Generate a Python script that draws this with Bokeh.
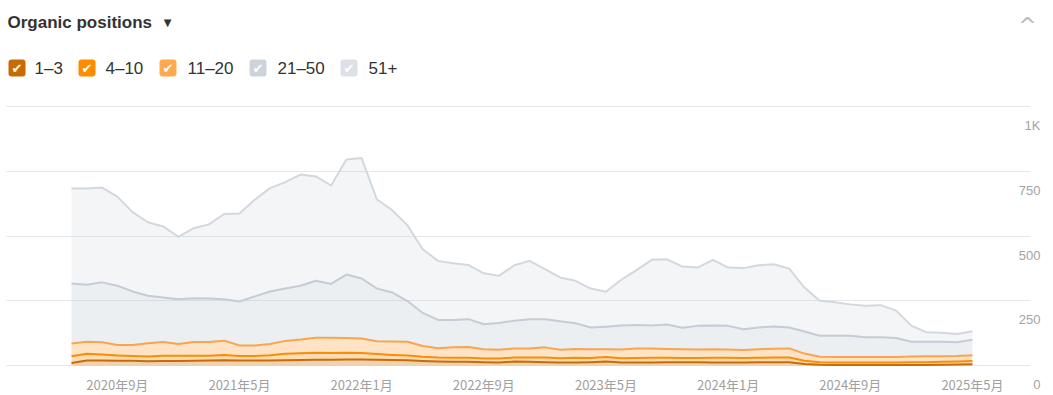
import numpy as np
from bokeh.plotting import figure
from bokeh.models import Label, BoxAnnotation, FixedTicker, Range1d
from bokeh.embed import file_html
from bokeh.resources import INLINE

# ---------------- data ----------------
ALL_MONTHS = [f"{y}-{m:02d}" for y in range(2020, 2026) for m in range(1, 13)]
MONTHS = ALL_MONTHS[ALL_MONTHS.index("2020-06"):ALL_MONTHS.index("2025-05") + 1]

SERIES = ["1–3", "4–10", "11–20", "21–50", "51+"]

POS_1_3 = [10, 19, 19, 18, 18, 16, 17, 17, 18, 19,
           20, 19, 19, 19, 20, 21, 22, 22, 23, 23,
           22, 21, 20, 17, 15, 14, 14, 13, 12, 15,
           14, 13, 12, 12, 13, 15, 12, 12, 12, 13,
           13, 13, 12, 12, 12, 13, 13, 13, 6, 3,
           2, 2, 2, 2, 2, 2, 2, 3, 4, 5]
POS_4_10 = [26, 26, 23, 21, 19, 19, 21, 21, 20, 19,
            21, 18, 18, 21, 25, 26, 27, 26, 26, 25,
            22, 20, 19, 17, 16, 16, 16, 14, 15, 16,
            17, 18, 16, 18, 16, 18, 16, 17, 18, 17,
            16, 16, 18, 18, 17, 17, 18, 18, 12, 10,
            10, 10, 10, 10, 10, 11, 11, 11, 11, 12]
POS_11_20 = [49, 47, 48, 40, 42, 51, 53, 45, 53, 53,
             55, 40, 40, 43, 50, 53, 58, 59, 57, 56,
             50, 52, 53, 41, 36, 40, 41, 36, 34, 35,
             35, 39, 33, 34, 34, 30, 34, 37, 36, 34,
             34, 33, 33, 32, 31, 33, 34, 35, 28, 21,
             21, 21, 21, 21, 21, 22, 23, 22, 22, 23]
POS_21_50 = [232, 220, 231, 229, 207, 183, 172, 173, 169, 168,
             160, 170, 190, 203, 202, 208, 220, 208, 245, 232,
             203, 189, 157, 128, 109, 106, 108, 96, 103, 107,
             113, 109, 110, 99, 84, 87, 92, 90, 88, 94,
             83, 91, 91, 91, 80, 84, 86, 81, 85, 81,
             82, 82, 76, 76, 73, 57, 56, 56, 53, 59]
POS_51_PLUS = [366, 371, 366, 344, 306, 284, 274, 241, 270, 286,
               329, 340, 373, 399, 411, 429, 403, 380, 444, 465,
               344, 318, 292, 246, 228, 219, 209, 197, 182, 214,
               225, 193, 169, 164, 150, 135, 177, 212, 254, 252,
               236, 225, 254, 225, 236, 240, 240, 227, 170, 135,
               129, 121, 122, 124, 106, 62, 36, 34, 32, 33]

TICK_MONTHS = ["2020-09", "2021-05", "2022-01", "2022-09",
               "2023-05", "2024-01", "2024-09", "2025-05"]
TICK_LABELS = ["2020年9月", "2021年5月", "2022年1月", "2022年9月",
               "2023年5月", "2024年1月", "2024年9月", "2025年5月"]
Y_TICKS = [0, 250, 500, 750, 1000]
Y_TICK_LABELS = ["0", "250", "500", "750", "1K"]

# ---------------- styles ----------------
W, H = 1053, 395
LINE_COLORS = ["#c96c05", "#f88d0c", "#f7a551", "#c6ccd5", "#d3d8df"]
FILL_COLORS = ["#c86b00", "#ff8c00", "#ffa94d", "#b4bfcc", "#c5ccd6"]
FILL_ALPHAS = [0.30, 0.30, 0.33, 0.25, 0.20]
BOX_COLORS = ["#c86b00", "#ff8c00", "#ffa94d", "#cdd3db", "#dde1e7"]
FONT = "Liberation Sans"
CJK = "Noto Sans CJK SC"

# pixel layout of the plotting area (the frame covers the whole canvas)
PX_X0, PX_PER_MONTH = 71.0, 15.27       # first month's pixel column, spacing
PX_Y0, PX_PER_UNIT = 365.0, 0.259       # pixel row of value 0, scale
GRID_PX = (6, 1030)                     # horizontal extent of grid lines

x = np.arange(len(MONTHS))
bands = np.array([POS_1_3, POS_4_10, POS_11_20, POS_21_50, POS_51_PLUS], dtype=float)
tops = np.cumsum(bands, axis=0)
bottoms = np.vstack([np.zeros(len(MONTHS)), tops[:-1]])

def mx(px):
    return (px - PX_X0) / PX_PER_MONTH

def vy(py):
    return (PX_Y0 - py) / PX_PER_UNIT

p = figure(width=W, height=H, output_backend="svg", toolbar_location=None,
           x_range=Range1d(mx(0), mx(W)), y_range=Range1d(vy(H), vy(0)),
           x_axis_location=None, y_axis_location=None,
           min_border_left=0, min_border_right=0,
           min_border_top=0, min_border_bottom=0)
p.outline_line_color = None
p.background_fill_color = "white"
p.border_fill_color = "white"

p.xgrid.visible = False
p.ygrid.ticker = FixedTicker(ticks=Y_TICKS)
p.ygrid.grid_line_color = "#e6e7e9"
p.ygrid.grid_line_width = 1
p.ygrid.cross_bounds = (mx(GRID_PX[0]), mx(GRID_PX[1]))

for k in range(len(SERIES)):
    p.varea(x=x, y1=bottoms[k], y2=tops[k], fill_color=FILL_COLORS[k],
            fill_alpha=FILL_ALPHAS[k])
for k in reversed(range(len(SERIES))):
    p.line(x, tops[k], line_color=LINE_COLORS[k], line_width=2,
           line_join="round")

def sy(page_y):
    return H - page_y

# x tick labels
for m, lab in zip(TICK_MONTHS, TICK_LABELS):
    p.add_layout(Label(x=MONTHS.index(m), y=sy(383.5), x_units="data", y_units="screen",
                       text=lab, text_align="center", text_baseline="middle",
                       text_font=CJK, text_font_size="13px", text_color="#a0a0a0"))

# y tick labels (sit below their grid lines)
for v, lab in zip(Y_TICKS, Y_TICK_LABELS):
    p.add_layout(Label(x=1040, y=v, x_units="screen", y_units="data", text=lab,
                       y_offset=-19, text_align="right", text_baseline="middle",
                       text_font=FONT, text_font_size="13px",
                       text_color="#a3a3a3"))

# header
p.add_layout(Label(x=7, y=sy(22), x_units="screen", y_units="screen",
                   text="Organic positions", text_font=FONT, text_font_size="17px",
                   text_font_style="bold", text_color="#333333",
                   text_baseline="middle"))
p.add_layout(Label(x=167, y=sy(22), x_units="screen", y_units="screen",
                   text="▼", text_font="DejaVu Sans", text_font_size="10px",
                   text_color="#333333", text_align="center",
                   text_baseline="middle"))
p.add_layout(Label(x=1027, y=sy(24.5), x_units="screen", y_units="screen",
                   text="^", text_font="DejaVu Sans", text_font_size="22px",
                   text_color="#b8b8b8", text_align="center",
                   text_baseline="middle"))

box_left = [8, 78, 159, 249, 340]
text_left = [34, 105, 187, 277, 368]
for k, name in enumerate(SERIES):
    l = box_left[k]
    p.add_layout(BoxAnnotation(left=l, right=l + 17, top=sy(59), bottom=sy(76),
                               left_units="screen", right_units="screen",
                               top_units="screen", bottom_units="screen",
                               fill_color=BOX_COLORS[k], fill_alpha=1.0,
                               line_color=None, border_radius=3))
    p.add_layout(Label(x=l + 8.5, y=sy(67.5), x_units="screen", y_units="screen",
                       text="✔", text_font="DejaVu Sans", text_font_size="13px",
                       text_color="white",
                       text_align="center", text_baseline="middle"))
    p.add_layout(Label(x=text_left[k], y=sy(67.5), x_units="screen", y_units="screen",
                       text=name, text_font=FONT, text_font_size="17px",
                       text_color="#333333", text_baseline="middle"))

open("out.html", "w").write(file_html(p, INLINE))
